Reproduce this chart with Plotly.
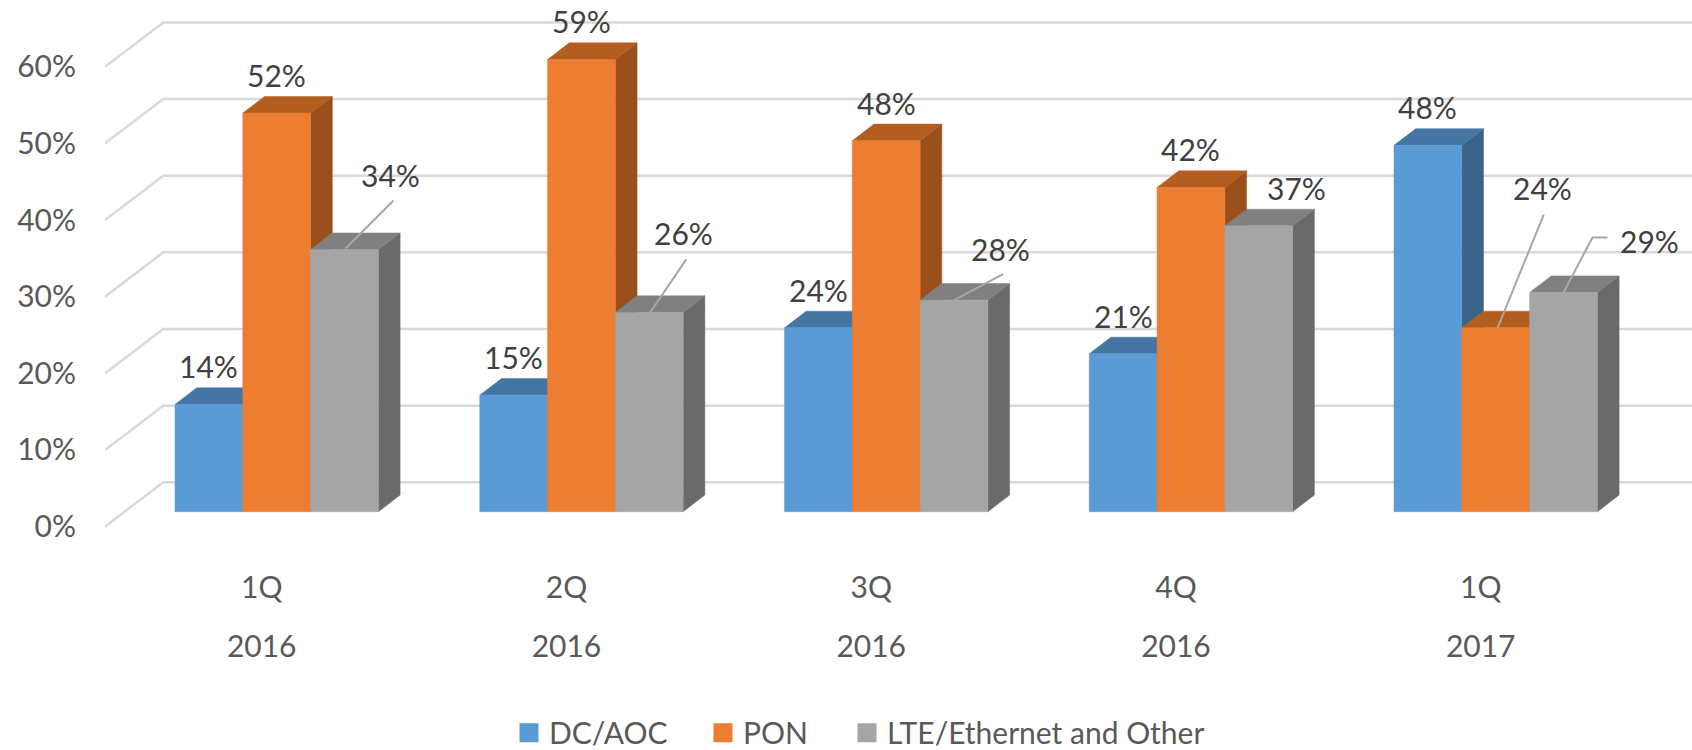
import plotly.graph_objects as go

# ---------------- data ----------------
quarters = ["1Q", "2Q", "3Q", "4Q", "1Q"]
years = ["2016", "2016", "2016", "2016", "2017"]
series_names = ["DC/AOC", "PON", "LTE/Ethernet and Other"]
dc_aoc = [14.0, 15.2, 24.0, 20.6, 47.8]
pon = [52.0, 59.0, 48.4, 42.3, 24.0]
lte_other = [34.2, 26.0, 27.6, 37.3, 28.6]
y_ticks = [0, 10, 20, 30, 40, 50, 60]

series_values = [dc_aoc, pon, lte_other]

# ---------------- style ----------------
W, H = 1692, 750
ML, MR, MT, MB = 105, 0, 0, 210
PX_CAT = 304.75          # px per category
PX_PCT = 7.665           # px per percent
CAT0_PX = 261.7          # page x of category 0
Y0_PX = 526.6            # page y of 0% (front edge of floor)

x_min = (ML - CAT0_PX) / PX_CAT
x_max = (W - MR - CAT0_PX) / PX_CAT
y_max = (Y0_PX - MT) / PX_PCT
y_min = (Y0_PX - (H - MB)) / PX_PCT

WALL_DX = 58.3 / PX_CAT
WALL_DY = 44.3 / PX_PCT
BAR_OFF = 15.0 / PX_CAT
BAR_BASE = 14.9 / PX_PCT
BAR_W = 67.8 / PX_CAT
BAR_DX = 21.7 / PX_CAT
BAR_DY = 16.6 / PX_PCT

FONT = "Lato"
FS = 30
front_cols = ["#5B9BD5", "#ED7D31", "#A5A5A5"]
top_cols = ["#4576A3", "#B45D21", "#808080"]
side_cols = ["#3A6389", "#9A4F1D", "#6A6A6A"]
GRID_COL = "#D9D9D9"
LEADER_COL = "#A6A6A6"

# label placement (px right, px up) relative to bar front-top centre
label_offsets = {(0, 2): (46, 75), (1, 2): (34, 79), (2, 2): (46, 51),
                 (3, 2): (38, 38), (4, 1): (47, 140), (4, 2): (86, 51)}
DEFAULT_OFFSET = (0, 38)
leaders = {(0, 2): [(1, 1), (49, 49)], (1, 2): [(1, 0), (37, 53)],
           (2, 2): [(0, 0), (49, 26)], (4, 1): [(2, 0), (48, 113)],
           (4, 2): [(0, 0), (29, 55), (44, 55)]}

# legend placement (page px of each legend's left edge)
legend_left_px = [509, 703, 847]
LEGEND_Y = -0.357

fig = go.Figure()

# back-wall gridlines
for v in y_ticks:
    fig.add_trace(go.Scatter(
        x=[x_min, x_min + WALL_DX, x_max],
        y=[v, v + WALL_DY, v + WALL_DY],
        mode="lines", line=dict(color=GRID_COL, width=2.5),
        hoverinfo="skip", showlegend=False))


def poly(xs, ys, col):
    fig.add_trace(go.Scatter(
        x=xs + [xs[0]], y=ys + [ys[0]], mode="lines", fill="toself",
        fillcolor=col, line=dict(color=col, width=0.5),
        hoverinfo="skip", showlegend=False))


annotations = []
for i in range(len(quarters)):
    for j, vals in enumerate(series_values):
        v = vals[i]
        xl = i + BAR_OFF + (j - 1.5) * BAR_W
        xr = xl + BAR_W
        y0 = BAR_BASE
        y1 = BAR_BASE + v
        poly([xr, xr + BAR_DX, xr + BAR_DX, xr],
             [y0, y0 + BAR_DY, y1 + BAR_DY, y1], side_cols[j])
        poly([xl, xr, xr + BAR_DX, xl + BAR_DX],
             [y1, y1, y1 + BAR_DY, y1 + BAR_DY], top_cols[j])
        poly([xl, xr, xr, xl], [y0, y0, y1, y1], front_cols[j])

        cx = (xl + xr) / 2
        dx, dy = label_offsets.get((i, j), DEFAULT_OFFSET)
        annotations.append(dict(
            x=cx, y=y1, xref="x", yref="y", text=f"{round(v)}%",
            showarrow=False, xshift=dx, yshift=dy,
            xanchor="center", yanchor="middle",
            font=dict(family=FONT, size=FS, color="#404040")))

# leader lines
for (i, j), pts in leaders.items():
    v = series_values[j][i]
    cx = i + BAR_OFF + (j - 1) * BAR_W
    y1 = BAR_BASE + v
    fig.add_trace(go.Scatter(
        x=[cx + p[0] / PX_CAT for p in pts],
        y=[y1 + p[1] / PX_PCT for p in pts],
        mode="lines", line=dict(color=LEADER_COL, width=2),
        hoverinfo="skip", showlegend=False))

# legend entries (one legend per series for Excel-like spacing)
legend_ids = ["legend", "legend2", "legend3"]
for j, name in enumerate(series_names):
    fig.add_trace(go.Scatter(
        x=[None], y=[None], mode="markers", name=name,
        marker=dict(symbol="square", size=16, color=front_cols[j],
                    line=dict(color=front_cols[j], width=3)),
        xaxis="x2", showlegend=True, legend=legend_ids[j]))

legend_common = dict(orientation="h", xanchor="left", y=LEGEND_Y,
                     yanchor="middle", itemsizing="trace",
                     font=dict(family=FONT, size=FS, color="#595959"),
                     bgcolor="rgba(0,0,0,0)")
plot_w = W - ML - MR
legend_layout = {}
for j, lid in enumerate(legend_ids):
    legend_layout[lid] = dict(legend_common,
                              x=(legend_left_px[j] - ML) / plot_w)

fig.update_layout(
    width=W, height=H,
    margin=dict(l=ML, r=MR, t=MT, b=MB, autoexpand=False),
    paper_bgcolor="white", plot_bgcolor="white",
    font=dict(family=FONT, size=FS, color="#595959"),
    xaxis=dict(range=[x_min, x_max], tickvals=list(range(len(quarters))),
               ticktext=quarters, showgrid=False, zeroline=False,
               showline=False, ticks="", ticklabelstandoff=27,
               automargin=False,
               tickfont=dict(family=FONT, size=FS, color="#595959"),
               fixedrange=True),
    xaxis2=dict(range=[x_min, x_max], overlaying="x", side="bottom",
                anchor="y", tickvals=list(range(len(years))),
                ticktext=years, showgrid=False, zeroline=False,
                showline=False, ticks="", ticklabelstandoff=86,
                automargin=False,
                tickfont=dict(family=FONT, size=FS, color="#595959")),
    yaxis=dict(range=[y_min, y_max], tickvals=y_ticks,
               ticktext=[f"{v}%" for v in y_ticks], showgrid=False,
               zeroline=False, showline=False, ticks="",
               ticklabelstandoff=28, automargin=False,
               tickfont=dict(family=FONT, size=FS, color="#595959")),
    annotations=annotations,
    showlegend=True,
    **legend_layout,
)

fig.write_html("out.html")
